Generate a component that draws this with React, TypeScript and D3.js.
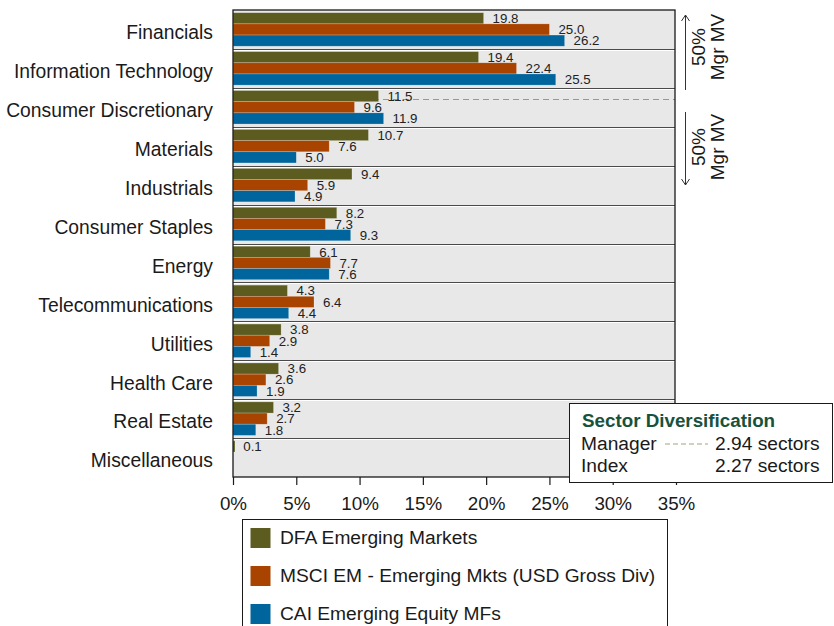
import { useEffect, useRef } from 'react';
import * as d3 from 'd3';

const categories = [
	'Financials',
	'Information Technology',
	'Consumer Discretionary',
	'Materials',
	'Industrials',
	'Consumer Staples',
	'Energy',
	'Telecommunications',
	'Utilities',
	'Health Care',
	'Real Estate',
	'Miscellaneous',
];

const seriesNames = [
	'DFA Emerging Markets',
	'MSCI EM - Emerging Mkts (USD Gross Div)',
	'CAI Emerging Equity MFs',
];

const dfaValues = [19.8, 19.4, 11.5, 10.7, 9.4, 8.2, 6.1, 4.3, 3.8, 3.6, 3.2, 0.1];
const msciValues = [25.0, 22.4, 9.6, 7.6, 5.9, 7.3, 7.7, 6.4, 2.9, 2.6, 2.7, null];
const caiValues = [26.2, 25.5, 11.9, 5.0, 4.9, 9.3, 7.6, 4.4, 1.4, 1.9, 1.8, null];

const xTicks = [0, 5, 10, 15, 20, 25, 30, 35];

const diversification = [
	{ label: 'Manager', value: '2.94 sectors' },
	{ label: 'Index', value: '2.27 sectors' },
];

const colors = ['#5c5c20', '#a94400', '#00659c'];
const font = '"Liberation Sans", Arial, sans-serif';

export default function App() {
	const ref = useRef<SVGSVGElement | null>(null);

	useEffect(() => {
		if (!ref.current) return;
		const svg = d3.select(ref.current);
		svg.selectAll('*').remove();

		const left = 233;
		const right = 675;
		const top = 10;
		const bottom = 477;

		const x = d3.scaleLinear().domain([0, 35]).range([left, right + 1]);
		const y = d3.scaleBand().domain(categories).range([top, bottom]);
		const bw = y.bandwidth();
		const inner = d3
			.scaleBand()
			.domain(seriesNames)
			.range([bw * 0.07, bw * 0.93]);

		const allSeries = [dfaValues, msciValues, caiValues];

		// plot background
		svg
			.append('rect')
			.attr('x', left)
			.attr('y', top)
			.attr('width', right - left)
			.attr('height', bottom - top)
			.attr('fill', '#e8e8e8');

		// row separators
		categories.slice(1).forEach(c => {
			const yy = Math.round(y(c)!) + 0.5;
			svg
				.append('line')
				.attr('x1', left)
				.attr('x2', right)
				.attr('y1', yy)
				.attr('y2', yy)
				.attr('stroke', '#4a4a4a')
				.attr('stroke-width', 1);
			svg
				.append('line')
				.attr('x1', left)
				.attr('x2', right)
				.attr('y1', yy + 1)
				.attr('y2', yy + 1)
				.attr('stroke', '#ffffff')
				.attr('stroke-width', 1);
		});

		// manager 50% dashed line
		svg
			.append('line')
			.attr('x1', left)
			.attr('x2', right)
			.attr('y1', 99.5)
			.attr('y2', 99.5)
			.attr('stroke', '#9c9c7c')
			.attr('stroke-width', 1.2)
			.attr('stroke-dasharray', '6,4');

		// bars
		allSeries.forEach((vals, si) => {
			vals.forEach((v, i) => {
				if (v == null) return;
				const y0 = y(categories[i])! + inner(seriesNames[si])!;
				svg
					.append('rect')
					.attr('x', x(0))
					.attr('y', y0)
					.attr('width', Math.max(x(v) - x(0), 2))
					.attr('height', inner.bandwidth())
					.attr('fill', colors[si])
					.attr('stroke', 'rgba(255,255,255,0.35)')
					.attr('stroke-width', 0.6);
			});
		});

		// value labels
		allSeries.forEach((vals, si) => {
			vals.forEach((v, i) => {
				if (v == null) return;
				const y0 = y(categories[i])! + inner(seriesNames[si])!;
				svg
					.append('text')
					.attr('x', x(v) + 9)
					.attr('y', y0 + inner.bandwidth() - 0.8)
					.attr('font-family', font)
					.attr('font-size', 13.3)
					.attr('fill', '#222')
					.text(v.toFixed(1));
			});
		});

		// plot border
		svg
			.append('rect')
			.attr('x', left)
			.attr('y', top)
			.attr('width', right - left)
			.attr('height', bottom - top)
			.attr('fill', 'none')
			.attr('stroke', '#1a1a1a')
			.attr('stroke-width', 1.3);

		// category labels
		categories.forEach(c => {
			svg
				.append('text')
				.attr('x', 213)
				.attr('y', y(c)! + bw / 2 + 9.8)
				.attr('text-anchor', 'end')
				.attr('font-family', font)
				.attr('font-size', 19.3)
				.attr('fill', '#1a1a1a')
				.text(c);
		});

		// x axis
		const axis = svg
			.append('g')
			.attr('transform', `translate(0, ${bottom})`)
			.call(
				d3
					.axisBottom(x)
					.tickValues(xTicks)
					.tickSize(8)
					.tickFormat(d => `${d}%`)
			);
		axis.select('.domain').remove();
		axis.selectAll('line').attr('stroke', '#1a1a1a').attr('stroke-width', 1.2);
		axis
			.selectAll('text')
			.attr('y', 33)
			.attr('dy', null)
			.attr('font-family', font)
			.attr('font-size', 18.8)
			.attr('fill', '#1a1a1a');

		// 50% Mgr MV arrows
		const ax = 685.5;
		const arrows = [
			{ y1: 15, y2: 90, head: 15, dir: 1, mid: 47 },
			{ y1: 112, y2: 185, head: 185, dir: -1, mid: 147 },
		];
		arrows.forEach(a => {
			svg
				.append('line')
				.attr('x1', ax)
				.attr('x2', ax)
				.attr('y1', a.y1)
				.attr('y2', a.y2)
				.attr('stroke', '#333')
				.attr('stroke-width', 1);
			svg
				.append('path')
				.attr('d', `M${ax - 4},${a.head + 6 * a.dir} L${ax},${a.head} L${ax + 4},${a.head + 6 * a.dir}`)
				.attr('fill', 'none')
				.attr('stroke', '#333')
				.attr('stroke-width', 1);
			[
				{ t: '50%', bx: 705 },
				{ t: 'Mgr MV', bx: 723.5 },
			].forEach(l => {
				svg
					.append('text')
					.attr('transform', `translate(${l.bx}, ${a.mid}) rotate(-90)`)
					.attr('text-anchor', 'middle')
					.attr('font-family', font)
					.attr('font-size', 19)
					.attr('fill', '#1a1a1a')
					.text(l.t);
			});
		});

		// sector diversification box
		const bx = 569.5;
		const by = 403.5;
		svg
			.append('rect')
			.attr('x', bx)
			.attr('y', by)
			.attr('width', 263)
			.attr('height', 79)
			.attr('fill', '#fff')
			.attr('stroke', '#1a1a1a')
			.attr('stroke-width', 1);
		svg
			.append('text')
			.attr('x', 582)
			.attr('y', 427)
			.attr('font-family', font)
			.attr('font-size', 18.8)
			.attr('font-weight', 'bold')
			.attr('fill', '#17523c')
			.text('Sector Diversification');
		diversification.forEach((d, i) => {
			const yy = 450 + i * 22;
			svg
				.append('text')
				.attr('x', 581)
				.attr('y', yy)
				.attr('font-family', font)
				.attr('font-size', 19.2)
				.attr('fill', '#1a1a1a')
				.text(d.label);
			svg
				.append('text')
				.attr('x', 715)
				.attr('y', yy)
				.attr('font-family', font)
				.attr('font-size', 19.2)
				.attr('fill', '#1a1a1a')
				.text(d.value);
		});
		svg
			.append('line')
			.attr('x1', 665)
			.attr('x2', 708)
			.attr('y1', 444)
			.attr('y2', 444)
			.attr('stroke', '#a3a382')
			.attr('stroke-width', 1.2)
			.attr('stroke-dasharray', '5,3');

		// legend
		svg
			.append('rect')
			.attr('x', 242.5)
			.attr('y', 519.5)
			.attr('width', 425)
			.attr('height', 130)
			.attr('fill', '#fff')
			.attr('stroke', '#1a1a1a')
			.attr('stroke-width', 1);
		seriesNames.forEach((s, i) => {
			const ly = 528 + i * 38;
			svg
				.append('rect')
				.attr('x', 250.5)
				.attr('y', ly)
				.attr('width', 20)
				.attr('height', 20)
				.attr('fill', colors[i]);
			svg
				.append('text')
				.attr('x', 280)
				.attr('y', ly + 16)
				.attr('font-family', font)
				.attr('font-size', 19.2)
				.attr('fill', '#1a1a1a')
				.text(s);
		});
	}, []);

	return (
		<svg
			ref={ref}
			width={834}
			height={626}
			style={{ position: 'absolute', left: 0, top: 0, display: 'block', background: '#fff' }}
		/>
	);
}
